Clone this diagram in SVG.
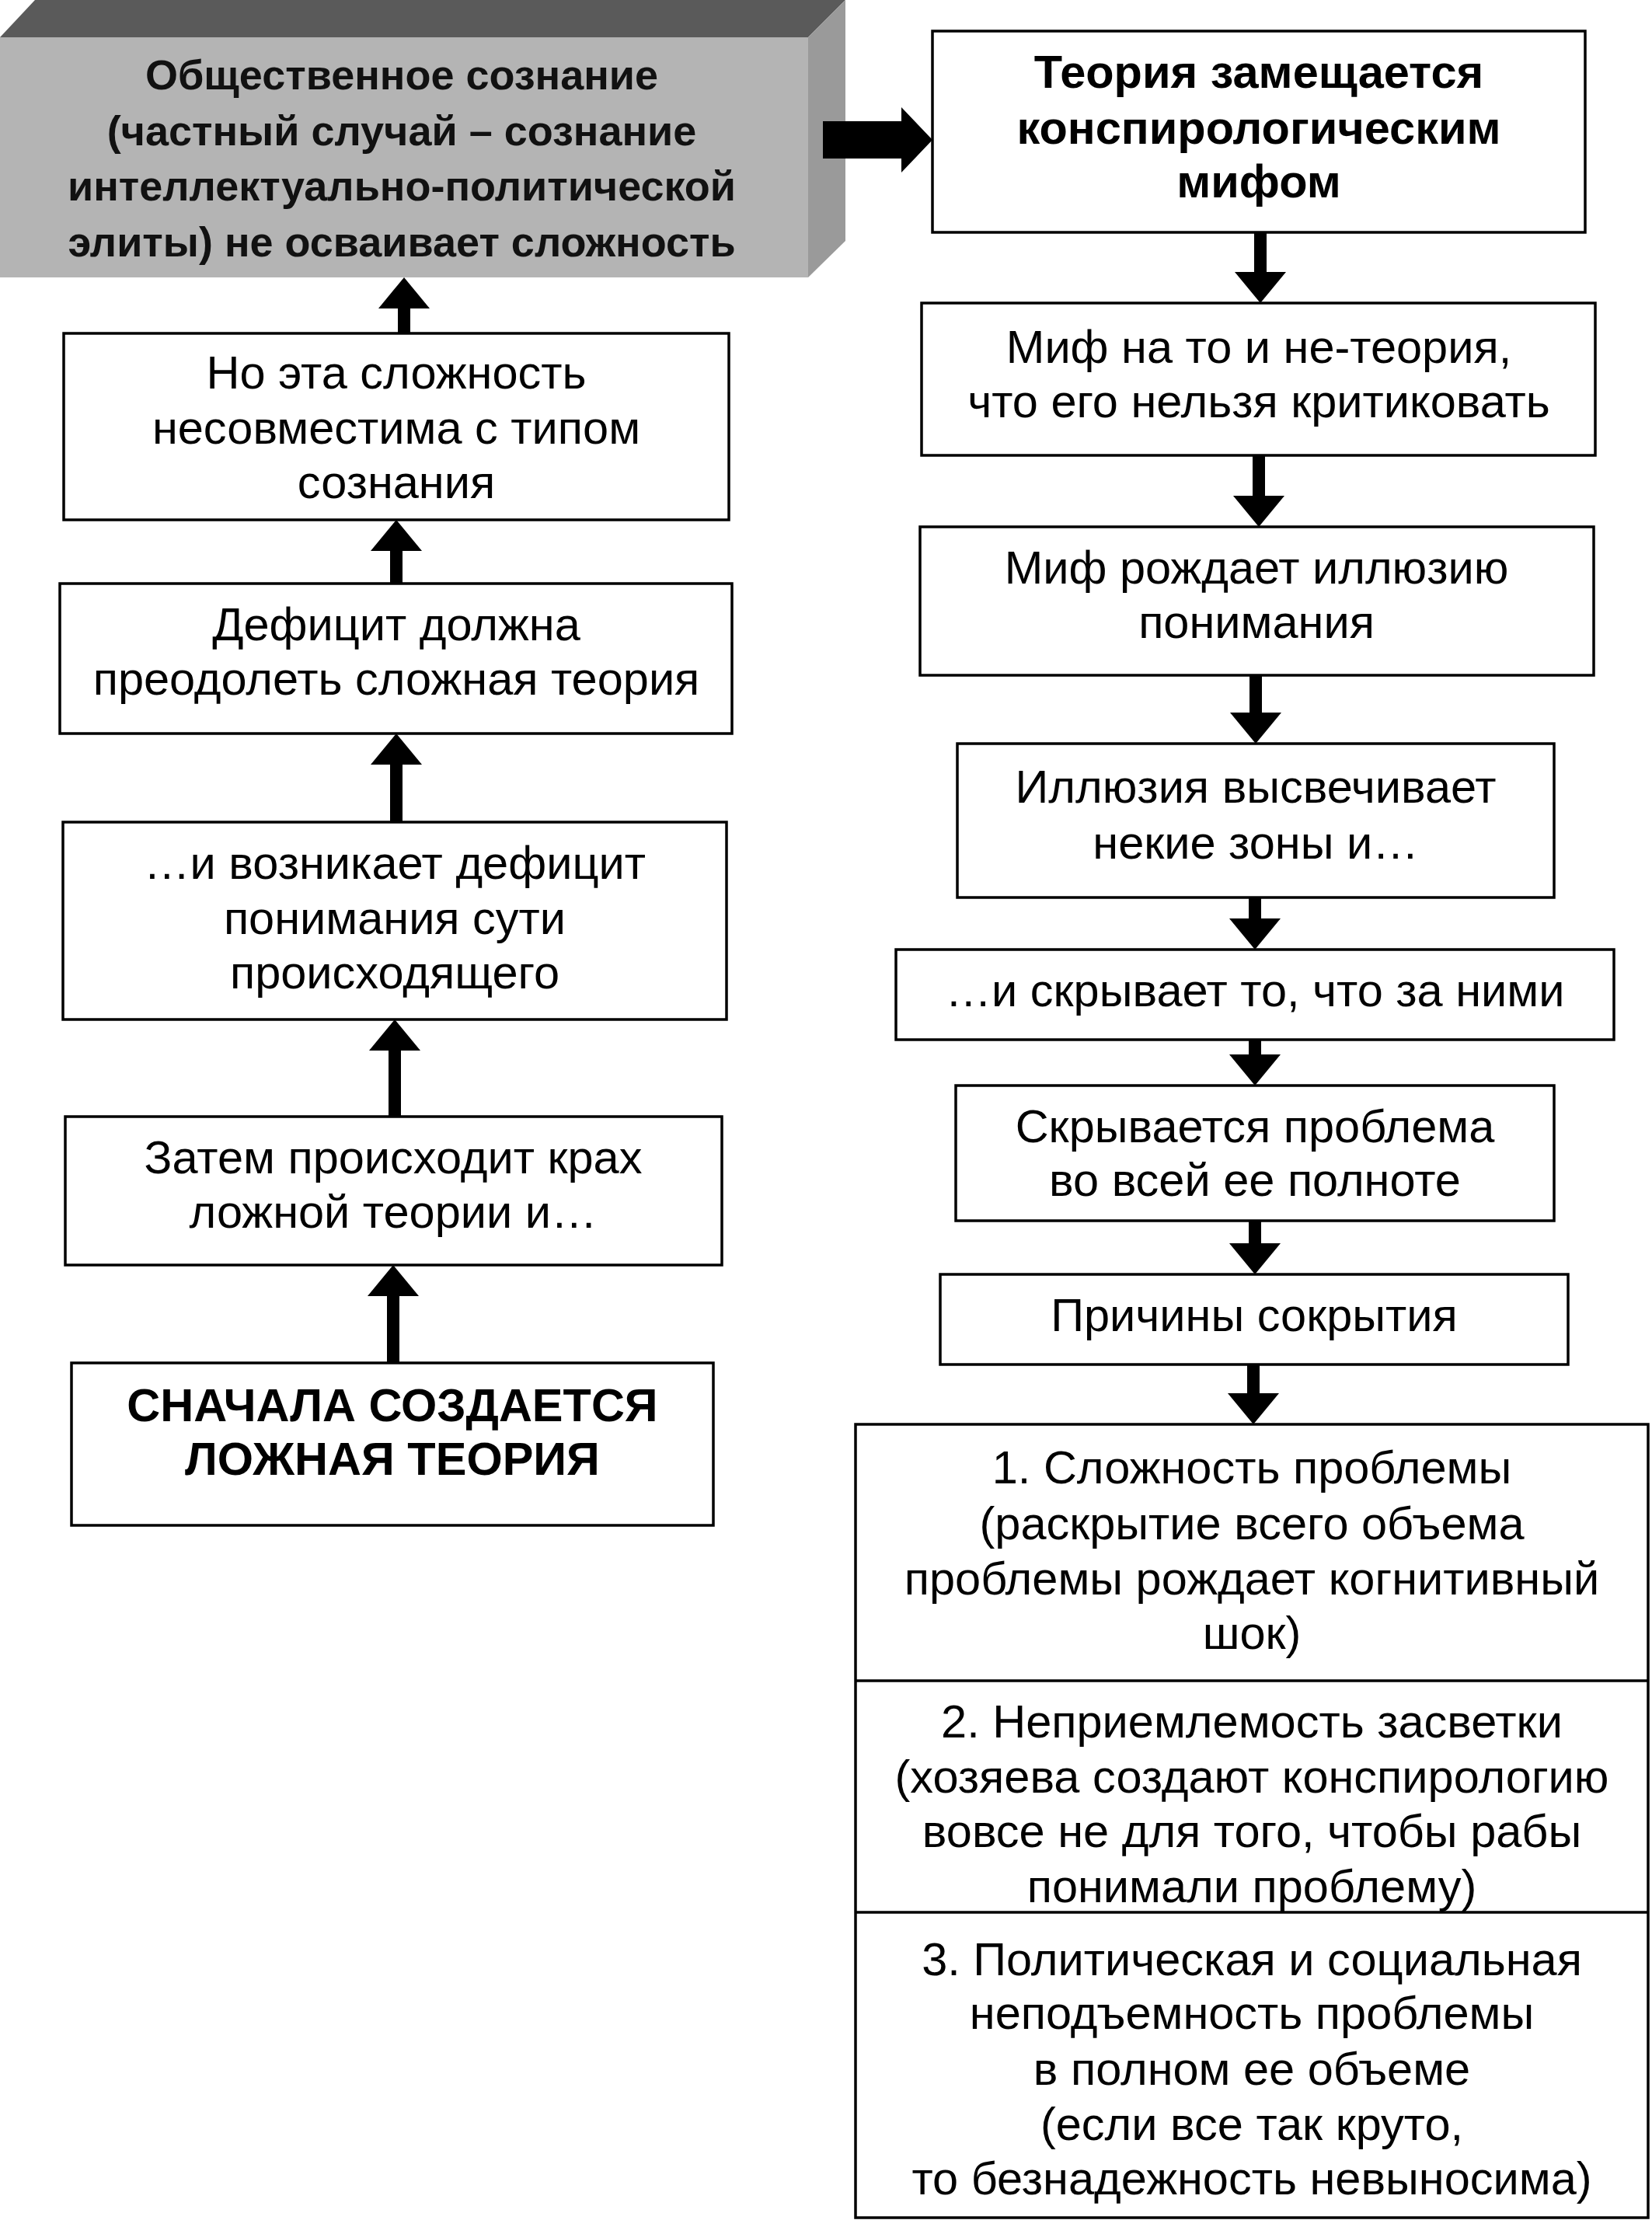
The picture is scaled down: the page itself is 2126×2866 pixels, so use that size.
<svg xmlns="http://www.w3.org/2000/svg" width="2126" height="2866" viewBox="0 0 2126 2866">
<style>
.box{fill:#fff;stroke:#000;stroke-width:3.5}
.t{font-family:"Liberation Sans",Arial,sans-serif;font-size:59.5px;text-anchor:middle;fill:#000}
.b{font-weight:bold}
.g{font-size:54px;fill:#111}
.c{stroke:#000;stroke-width:16;fill:none}
</style>
<defs>
<marker id="ah" viewBox="0 0 40 66" refX="0" refY="33" markerWidth="40" markerHeight="66" markerUnits="userSpaceOnUse" orient="auto">
<path d="M0,0 L40,33 L0,66 Z" fill="#000"/>
</marker>
</defs>
<rect width="2126" height="2866" fill="#fff"/>

<g id="n-social">
<polygon points="0,48 45,0 1088,0 1040,48" fill="#5a5a5a"/>
<polygon points="1040,48 1088,0 1088,310 1040,357" fill="#9a9a9a"/>
<rect x="0" y="48" width="1040" height="309" fill="#b4b4b4"/>
<text class="t b g" x="517" y="115">Общественное сознание</text>
<text class="t b g" x="517" y="187">(частный случай – сознание</text>
<text class="t b g" x="517" y="258">интеллектуально-политической</text>
<text class="t b g" x="517" y="330">элиты) не осваивает сложность</text>
</g>

<g id="n-complex">
<rect class="box" x="82" y="429" width="856" height="240"/>
<text class="t" x="510" y="500">Но эта сложность</text>
<text class="t" x="510" y="571">несовместима с типом</text>
<text class="t" x="510" y="641">сознания</text>
</g>

<g id="n-deficit">
<rect class="box" x="77" y="751" width="865" height="193"/>
<text class="t" x="510" y="824">Дефицит должна</text>
<text class="t" x="510" y="894">преодолеть сложная теория</text>
</g>

<g id="n-arises">
<rect class="box" x="81" y="1058" width="854" height="254"/>
<text class="t" x="508" y="1131">…и возникает дефицит</text>
<text class="t" x="508" y="1202">понимания сути</text>
<text class="t" x="508" y="1272">происходящего</text>
</g>

<g id="n-crash">
<rect class="box" x="84" y="1437" width="845" height="191"/>
<text class="t" x="506" y="1510">Затем происходит крах</text>
<text class="t" x="506" y="1580">ложной теории и…</text>
</g>

<g id="n-first">
<rect class="box" x="92" y="1754" width="826" height="209"/>
<text class="t b" x="505" y="1829">СНАЧАЛА СОЗДАЕТСЯ</text>
<text class="t b" x="505" y="1898">ЛОЖНАЯ ТЕОРИЯ</text>
</g>

<g id="n-replaced">
<rect class="box" x="1200" y="40" width="840" height="259"/>
<text class="t b" x="1620" y="113">Теория замещается</text>
<text class="t b" x="1620" y="185">конспирологическим</text>
<text class="t b" x="1620" y="254">мифом</text>
</g>

<g id="n-myth">
<rect class="box" x="1186" y="390" width="867" height="196"/>
<text class="t" x="1620" y="467">Миф на то и не-теория,</text>
<text class="t" x="1620" y="537">что его нельзя критиковать</text>
</g>

<g id="n-illusion">
<rect class="box" x="1184" y="678" width="867" height="191"/>
<text class="t" x="1617" y="751">Миф рождает иллюзию</text>
<text class="t" x="1617" y="821">понимания</text>
</g>

<g id="n-highlights">
<rect class="box" x="1232" y="957" width="768" height="198"/>
<text class="t" x="1616" y="1033">Иллюзия высвечивает</text>
<text class="t" x="1616" y="1105">некие зоны и…</text>
</g>

<g id="n-hides">
<rect class="box" x="1153" y="1222" width="924" height="116"/>
<text class="t" x="1615" y="1295">…и скрывает то, что за ними</text>
</g>

<g id="n-problem">
<rect class="box" x="1230" y="1397" width="770" height="174"/>
<text class="t" x="1615" y="1470">Скрывается проблема</text>
<text class="t" x="1615" y="1539">во всей ее полноте</text>
</g>

<g id="n-reasons">
<rect class="box" x="1210" y="1640" width="808" height="116"/>
<text class="t" x="1614" y="1713">Причины сокрытия</text>
</g>

<g id="n-list">
<rect class="box" x="1101" y="1833" width="1020" height="1021"/>
<line x1="1101" y1="2163" x2="2121" y2="2163" stroke="#000" stroke-width="3.5"/>
<line x1="1101" y1="2461" x2="2121" y2="2461" stroke="#000" stroke-width="3.5"/>
<text class="t" x="1611" y="1909">1. Сложность проблемы</text>
<text class="t" x="1611" y="1981">(раскрытие всего объема</text>
<text class="t" x="1611" y="2052">проблемы рождает когнитивный</text>
<text class="t" x="1611" y="2122">шок)</text>
<text class="t" x="1611" y="2236">2. Неприемлемость засветки</text>
<text class="t" x="1611" y="2307">(хозяева создают конспирологию</text>
<text class="t" x="1611" y="2377">вовсе не для того, чтобы рабы</text>
<text class="t" x="1611" y="2448">понимали проблему)</text>
<text class="t" x="1611" y="2542">3. Политическая и социальная</text>
<text class="t" x="1611" y="2611">неподъемность проблемы</text>
<text class="t" x="1611" y="2683">в полном ее объеме</text>
<text class="t" x="1611" y="2754">(если все так круто,</text>
<text class="t" x="1611" y="2824">то безнадежность невыносима)</text>
</g>

<g id="connectors">
<polygon points="1059,156 1160,156 1160,138 1200,180 1160,222 1160,204 1059,204" fill="#000"/>
<line class="c" x1="520" y1="429" x2="520" y2="397" marker-end="url(#ah)"/>
<line class="c" x1="510" y1="751" x2="510" y2="709" marker-end="url(#ah)"/>
<line class="c" x1="510" y1="1058" x2="510" y2="984" marker-end="url(#ah)"/>
<line class="c" x1="508" y1="1437" x2="508" y2="1352" marker-end="url(#ah)"/>
<line class="c" x1="506" y1="1754" x2="506" y2="1668" marker-end="url(#ah)"/>
<line class="c" x1="1622" y1="299" x2="1622" y2="350" marker-end="url(#ah)"/>
<line class="c" x1="1620" y1="586" x2="1620" y2="638" marker-end="url(#ah)"/>
<line class="c" x1="1616" y1="869" x2="1616" y2="917" marker-end="url(#ah)"/>
<line class="c" x1="1615" y1="1155" x2="1615" y2="1182" marker-end="url(#ah)"/>
<line class="c" x1="1615" y1="1338" x2="1615" y2="1357" marker-end="url(#ah)"/>
<line class="c" x1="1615" y1="1571" x2="1615" y2="1600" marker-end="url(#ah)"/>
<line class="c" x1="1613" y1="1756" x2="1613" y2="1793" marker-end="url(#ah)"/>
</g>
</svg>
